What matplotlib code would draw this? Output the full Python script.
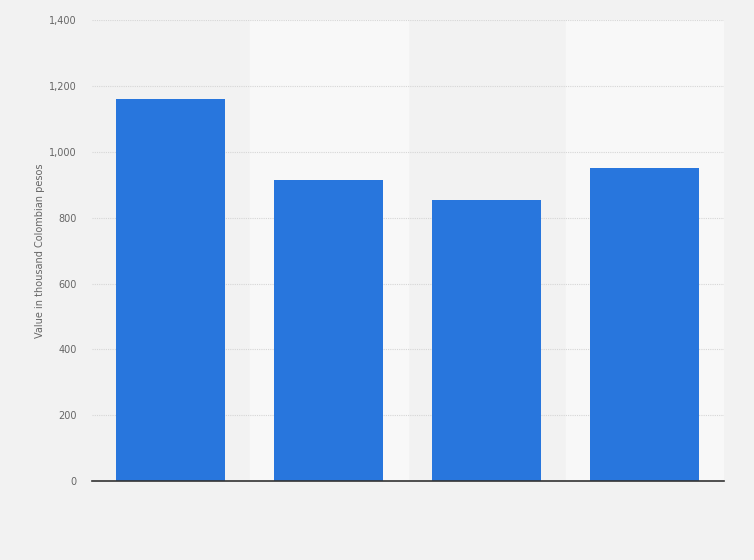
import matplotlib
matplotlib.use("Agg")
import matplotlib.pyplot as plt
from matplotlib.ticker import FuncFormatter

# bar values (thousand COP)
categories = ["A", "B", "C", "D"]
values = [1160, 914, 853, 950]
y_ticks = [0, 200, 400, 600, 800, 1000, 1200, 1400]

bg = "#f2f2f2"
band = "#f8f8f8"
bar_color = "#2876dd"

fig = plt.figure(figsize=(7.54, 5.6), dpi=100, facecolor=bg)
ax = fig.add_axes([0.122, 0.141, 0.838, 0.823])
ax.set_facecolor(bg)

x = list(range(len(categories)))
# alternating column bands
for i in x:
    if i % 2 == 1:
        ax.axvspan(i - 0.5, i + 0.5, color=band, zorder=0)

ax.bar(x, values, width=0.69, color=bar_color, zorder=3)

ax.set_xlim(-0.5, len(categories) - 0.5)
ax.set_ylim(0, 1400)
ax.set_yticks(y_ticks)
ax.yaxis.set_major_formatter(FuncFormatter(lambda v, p: f"{int(v):,}"))
ax.grid(axis="y", color="#d6d6d6", linestyle=(0, (1, 1)), linewidth=0.8, zorder=1)
ax.set_xticks([])

for side in ["top", "right", "left"]:
    ax.spines[side].set_visible(False)
ax.spines["bottom"].set_color("#333333")
ax.spines["bottom"].set_linewidth(1.2)
ax.spines["bottom"].set_zorder(4)

ax.tick_params(axis="y", length=0, labelsize=7, labelcolor="#666666", pad=11)
ax.set_ylabel("Value in thousand Colombian pesos", fontsize=7, color="#666666", labelpad=3)

fig.savefig("out.png", dpi=100, facecolor=bg)
